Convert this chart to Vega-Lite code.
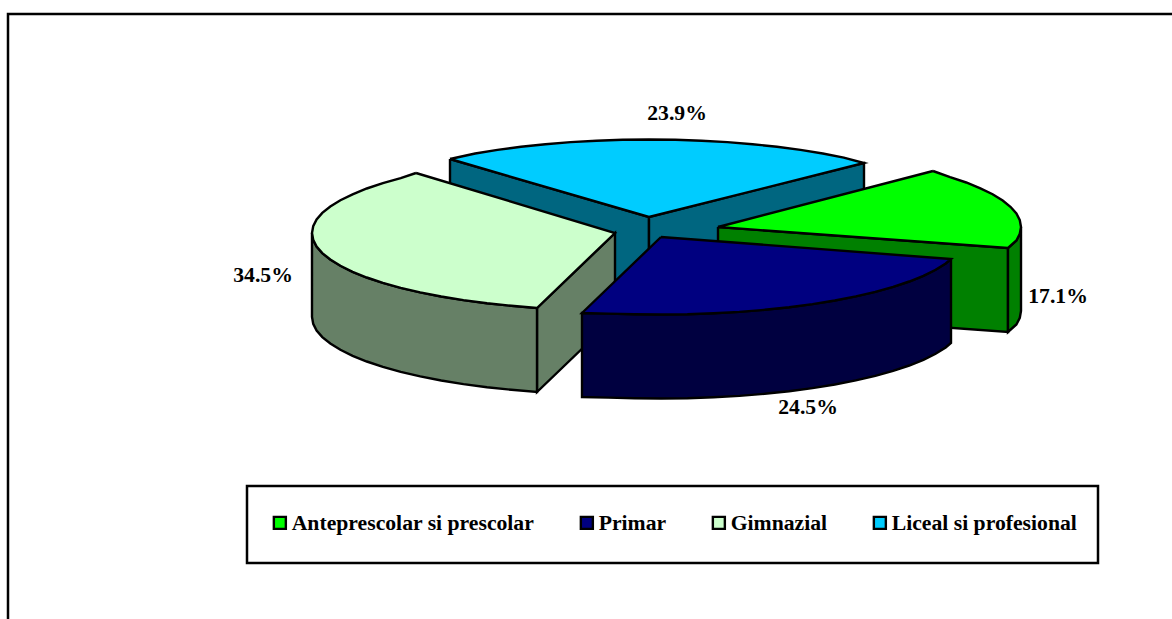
{"$schema":"https://vega.github.io/schema/vega-lite/v6.json","width":1172,"height":619,"padding":0,"autosize":"none","background":"white","config":{"view":{"stroke":null}},"datasets":{"shapes":[
{"s":"L1","part":"Liceal perete","i":0,"x":450,"y":159},{"s":"L1","part":"Liceal perete","i":1,"x":649,"y":217},{"s":"L1","part":"Liceal perete","i":2,"x":649,"y":301},{"s":"L1","part":"Liceal perete","i":3,"x":450,"y":243},{"s":"L1","part":"Liceal perete","i":4,"x":450,"y":159},
{"s":"L2","part":"Liceal perete","i":0,"x":649,"y":217},{"s":"L2","part":"Liceal perete","i":1,"x":864,"y":163},{"s":"L2","part":"Liceal perete","i":2,"x":864,"y":247},{"s":"L2","part":"Liceal perete","i":3,"x":649,"y":301},{"s":"L2","part":"Liceal perete","i":4,"x":649,"y":217},
{"s":"L3","part":"Liceal si profesional","i":0,"x":450,"y":159},{"s":"L3","part":"Liceal si profesional","i":1,"x":475.2,"y":153.5},{"s":"L3","part":"Liceal si profesional","i":2,"x":497.5,"y":149.9},{"s":"L3","part":"Liceal si profesional","i":3,"x":521,"y":146.8},{"s":"L3","part":"Liceal si profesional","i":4,"x":545.4,"y":144.2},{"s":"L3","part":"Liceal si profesional","i":5,"x":570.6,"y":142.1},{"s":"L3","part":"Liceal si profesional","i":6,"x":596.4,"y":140.7},{"s":"L3","part":"Liceal si profesional","i":7,"x":622.6,"y":139.8},{"s":"L3","part":"Liceal si profesional","i":8,"x":649,"y":139.5},{"s":"L3","part":"Liceal si profesional","i":9,"x":675.4,"y":139.8},{"s":"L3","part":"Liceal si profesional","i":10,"x":701.6,"y":140.7},{"s":"L3","part":"Liceal si profesional","i":11,"x":727.4,"y":142.1},{"s":"L3","part":"Liceal si profesional","i":12,"x":752.6,"y":144.2},{"s":"L3","part":"Liceal si profesional","i":13,"x":777,"y":146.8},{"s":"L3","part":"Liceal si profesional","i":14,"x":800.5,"y":149.9},{"s":"L3","part":"Liceal si profesional","i":15,"x":822.8,"y":153.5},{"s":"L3","part":"Liceal si profesional","i":16,"x":843.8,"y":157.6},{"s":"L3","part":"Liceal si profesional","i":17,"x":864,"y":163},{"s":"L3","part":"Liceal si profesional","i":18,"x":649,"y":217},{"s":"L3","part":"Liceal si profesional","i":19,"x":450,"y":159},
{"s":"G1","part":"Gimnazial perete","i":0,"x":537,"y":308},{"s":"G1","part":"Gimnazial perete","i":1,"x":615,"y":233},{"s":"G1","part":"Gimnazial perete","i":2,"x":615,"y":317},{"s":"G1","part":"Gimnazial perete","i":3,"x":537,"y":392},{"s":"G1","part":"Gimnazial perete","i":4,"x":537,"y":308},
{"s":"G2","part":"Gimnazial perete","i":0,"x":312,"y":233},{"s":"G2","part":"Gimnazial perete","i":1,"x":313.2,"y":239.8},{"s":"G2","part":"Gimnazial perete","i":2,"x":316.6,"y":246.5},{"s":"G2","part":"Gimnazial perete","i":3,"x":322.3,"y":253.1},{"s":"G2","part":"Gimnazial perete","i":4,"x":330.3,"y":259.5},{"s":"G2","part":"Gimnazial perete","i":5,"x":340.4,"y":265.8},{"s":"G2","part":"Gimnazial perete","i":6,"x":352.6,"y":271.8},{"s":"G2","part":"Gimnazial perete","i":7,"x":366.8,"y":277.5},{"s":"G2","part":"Gimnazial perete","i":8,"x":382.9,"y":282.8},{"s":"G2","part":"Gimnazial perete","i":9,"x":400.7,"y":287.8},{"s":"G2","part":"Gimnazial perete","i":10,"x":420.2,"y":292.4},{"s":"G2","part":"Gimnazial perete","i":11,"x":441.2,"y":296.5},{"s":"G2","part":"Gimnazial perete","i":12,"x":463.5,"y":300.1},{"s":"G2","part":"Gimnazial perete","i":13,"x":487,"y":303.2},{"s":"G2","part":"Gimnazial perete","i":14,"x":511.4,"y":305.8},{"s":"G2","part":"Gimnazial perete","i":15,"x":537,"y":308},{"s":"G2","part":"Gimnazial perete","i":16,"x":537,"y":392},{"s":"G2","part":"Gimnazial perete","i":17,"x":511.4,"y":389.8},{"s":"G2","part":"Gimnazial perete","i":18,"x":487,"y":387.2},{"s":"G2","part":"Gimnazial perete","i":19,"x":463.5,"y":384.1},{"s":"G2","part":"Gimnazial perete","i":20,"x":441.2,"y":380.5},{"s":"G2","part":"Gimnazial perete","i":21,"x":420.2,"y":376.4},{"s":"G2","part":"Gimnazial perete","i":22,"x":400.7,"y":371.8},{"s":"G2","part":"Gimnazial perete","i":23,"x":382.9,"y":366.8},{"s":"G2","part":"Gimnazial perete","i":24,"x":366.8,"y":361.5},{"s":"G2","part":"Gimnazial perete","i":25,"x":352.6,"y":355.8},{"s":"G2","part":"Gimnazial perete","i":26,"x":340.4,"y":349.8},{"s":"G2","part":"Gimnazial perete","i":27,"x":330.3,"y":343.5},{"s":"G2","part":"Gimnazial perete","i":28,"x":322.3,"y":337.1},{"s":"G2","part":"Gimnazial perete","i":29,"x":316.6,"y":330.5},{"s":"G2","part":"Gimnazial perete","i":30,"x":313.2,"y":323.8},{"s":"G2","part":"Gimnazial perete","i":31,"x":312,"y":317},{"s":"G2","part":"Gimnazial perete","i":32,"x":312,"y":233},
{"s":"G3","part":"Gimnazial","i":0,"x":416,"y":173},{"s":"G3","part":"Gimnazial","i":1,"x":400.7,"y":178.2},{"s":"G3","part":"Gimnazial","i":2,"x":382.9,"y":183.2},{"s":"G3","part":"Gimnazial","i":3,"x":366.8,"y":188.5},{"s":"G3","part":"Gimnazial","i":4,"x":352.6,"y":194.3},{"s":"G3","part":"Gimnazial","i":5,"x":340.4,"y":200.2},{"s":"G3","part":"Gimnazial","i":6,"x":330.3,"y":206.5},{"s":"G3","part":"Gimnazial","i":7,"x":322.3,"y":212.9},{"s":"G3","part":"Gimnazial","i":8,"x":316.6,"y":219.5},{"s":"G3","part":"Gimnazial","i":9,"x":313.2,"y":226.2},{"s":"G3","part":"Gimnazial","i":10,"x":312,"y":233},{"s":"G3","part":"Gimnazial","i":11,"x":313.2,"y":239.8},{"s":"G3","part":"Gimnazial","i":12,"x":316.6,"y":246.5},{"s":"G3","part":"Gimnazial","i":13,"x":322.3,"y":253.1},{"s":"G3","part":"Gimnazial","i":14,"x":330.3,"y":259.5},{"s":"G3","part":"Gimnazial","i":15,"x":340.4,"y":265.8},{"s":"G3","part":"Gimnazial","i":16,"x":352.6,"y":271.8},{"s":"G3","part":"Gimnazial","i":17,"x":366.8,"y":277.5},{"s":"G3","part":"Gimnazial","i":18,"x":382.9,"y":282.8},{"s":"G3","part":"Gimnazial","i":19,"x":400.7,"y":287.8},{"s":"G3","part":"Gimnazial","i":20,"x":420.2,"y":292.4},{"s":"G3","part":"Gimnazial","i":21,"x":441.2,"y":296.5},{"s":"G3","part":"Gimnazial","i":22,"x":463.5,"y":300.1},{"s":"G3","part":"Gimnazial","i":23,"x":487,"y":303.2},{"s":"G3","part":"Gimnazial","i":24,"x":511.4,"y":305.8},{"s":"G3","part":"Gimnazial","i":25,"x":537,"y":308},{"s":"G3","part":"Gimnazial","i":26,"x":615,"y":233},{"s":"G3","part":"Gimnazial","i":27,"x":416,"y":173},
{"s":"A1","part":"Anteprescolar perete","i":0,"x":718,"y":227},{"s":"A1","part":"Anteprescolar perete","i":1,"x":1008,"y":248},{"s":"A1","part":"Anteprescolar perete","i":2,"x":1008,"y":332},{"s":"A1","part":"Anteprescolar perete","i":3,"x":718,"y":311},{"s":"A1","part":"Anteprescolar perete","i":4,"x":718,"y":227},
{"s":"A2","part":"Anteprescolar perete","i":0,"x":1021,"y":227},{"s":"A2","part":"Anteprescolar perete","i":1,"x":1019.8,"y":233.8},{"s":"A2","part":"Anteprescolar perete","i":2,"x":1016.4,"y":240.5},{"s":"A2","part":"Anteprescolar perete","i":3,"x":1008,"y":248},{"s":"A2","part":"Anteprescolar perete","i":4,"x":1008,"y":332},{"s":"A2","part":"Anteprescolar perete","i":5,"x":1016.4,"y":324.5},{"s":"A2","part":"Anteprescolar perete","i":6,"x":1019.8,"y":317.8},{"s":"A2","part":"Anteprescolar perete","i":7,"x":1021,"y":311},{"s":"A2","part":"Anteprescolar perete","i":8,"x":1021,"y":227},
{"s":"A3","part":"Anteprescolar si prescolar","i":0,"x":933,"y":171},{"s":"A3","part":"Anteprescolar si prescolar","i":1,"x":950.1,"y":177.2},{"s":"A3","part":"Anteprescolar si prescolar","i":2,"x":966.2,"y":182.5},{"s":"A3","part":"Anteprescolar si prescolar","i":3,"x":980.4,"y":188.3},{"s":"A3","part":"Anteprescolar si prescolar","i":4,"x":992.6,"y":194.2},{"s":"A3","part":"Anteprescolar si prescolar","i":5,"x":1002.7,"y":200.5},{"s":"A3","part":"Anteprescolar si prescolar","i":6,"x":1010.7,"y":207},{"s":"A3","part":"Anteprescolar si prescolar","i":7,"x":1016.4,"y":213.5},{"s":"A3","part":"Anteprescolar si prescolar","i":8,"x":1019.8,"y":220.2},{"s":"A3","part":"Anteprescolar si prescolar","i":9,"x":1021,"y":227},{"s":"A3","part":"Anteprescolar si prescolar","i":10,"x":1019.8,"y":233.8},{"s":"A3","part":"Anteprescolar si prescolar","i":11,"x":1016.4,"y":240.5},{"s":"A3","part":"Anteprescolar si prescolar","i":12,"x":1008,"y":248},{"s":"A3","part":"Anteprescolar si prescolar","i":13,"x":718,"y":227},{"s":"A3","part":"Anteprescolar si prescolar","i":14,"x":933,"y":171},
{"s":"P1","part":"Primar perete","i":0,"x":951,"y":259},{"s":"P1","part":"Primar perete","i":1,"x":945.7,"y":263.5},{"s":"P1","part":"Primar perete","i":2,"x":935.6,"y":269.8},{"s":"P1","part":"Primar perete","i":3,"x":923.4,"y":275.8},{"s":"P1","part":"Primar perete","i":4,"x":909.2,"y":281.5},{"s":"P1","part":"Primar perete","i":5,"x":893.1,"y":286.8},{"s":"P1","part":"Primar perete","i":6,"x":875.3,"y":291.8},{"s":"P1","part":"Primar perete","i":7,"x":855.8,"y":296.4},{"s":"P1","part":"Primar perete","i":8,"x":834.8,"y":300.5},{"s":"P1","part":"Primar perete","i":9,"x":812.5,"y":304.1},{"s":"P1","part":"Primar perete","i":10,"x":789.1,"y":307.2},{"s":"P1","part":"Primar perete","i":11,"x":764.6,"y":309.8},{"s":"P1","part":"Primar perete","i":12,"x":739.4,"y":311.9},{"s":"P1","part":"Primar perete","i":13,"x":713.6,"y":313.3},{"s":"P1","part":"Primar perete","i":14,"x":687.4,"y":314.2},{"s":"P1","part":"Primar perete","i":15,"x":661,"y":314.5},{"s":"P1","part":"Primar perete","i":16,"x":634.6,"y":314.2},{"s":"P1","part":"Primar perete","i":17,"x":608.4,"y":313.6},{"s":"P1","part":"Primar perete","i":18,"x":582,"y":313},{"s":"P1","part":"Primar perete","i":19,"x":582,"y":397},{"s":"P1","part":"Primar perete","i":20,"x":608.4,"y":397.6},{"s":"P1","part":"Primar perete","i":21,"x":634.6,"y":398.2},{"s":"P1","part":"Primar perete","i":22,"x":661,"y":398.5},{"s":"P1","part":"Primar perete","i":23,"x":687.4,"y":398.2},{"s":"P1","part":"Primar perete","i":24,"x":713.6,"y":397.3},{"s":"P1","part":"Primar perete","i":25,"x":739.4,"y":395.9},{"s":"P1","part":"Primar perete","i":26,"x":764.6,"y":393.8},{"s":"P1","part":"Primar perete","i":27,"x":789.1,"y":391.2},{"s":"P1","part":"Primar perete","i":28,"x":812.5,"y":388.1},{"s":"P1","part":"Primar perete","i":29,"x":834.8,"y":384.5},{"s":"P1","part":"Primar perete","i":30,"x":855.8,"y":380.4},{"s":"P1","part":"Primar perete","i":31,"x":875.3,"y":375.8},{"s":"P1","part":"Primar perete","i":32,"x":893.1,"y":370.8},{"s":"P1","part":"Primar perete","i":33,"x":909.2,"y":365.5},{"s":"P1","part":"Primar perete","i":34,"x":923.4,"y":359.8},{"s":"P1","part":"Primar perete","i":35,"x":935.6,"y":353.8},{"s":"P1","part":"Primar perete","i":36,"x":945.7,"y":347.5},{"s":"P1","part":"Primar perete","i":37,"x":951,"y":343},{"s":"P1","part":"Primar perete","i":38,"x":951,"y":259},
{"s":"P2","part":"Primar","i":0,"x":661,"y":237},{"s":"P2","part":"Primar","i":1,"x":951,"y":259},{"s":"P2","part":"Primar","i":2,"x":945.7,"y":263.5},{"s":"P2","part":"Primar","i":3,"x":935.6,"y":269.8},{"s":"P2","part":"Primar","i":4,"x":923.4,"y":275.8},{"s":"P2","part":"Primar","i":5,"x":909.2,"y":281.5},{"s":"P2","part":"Primar","i":6,"x":893.1,"y":286.8},{"s":"P2","part":"Primar","i":7,"x":875.3,"y":291.8},{"s":"P2","part":"Primar","i":8,"x":855.8,"y":296.4},{"s":"P2","part":"Primar","i":9,"x":834.8,"y":300.5},{"s":"P2","part":"Primar","i":10,"x":812.5,"y":304.1},{"s":"P2","part":"Primar","i":11,"x":789.1,"y":307.2},{"s":"P2","part":"Primar","i":12,"x":764.6,"y":309.8},{"s":"P2","part":"Primar","i":13,"x":739.4,"y":311.9},{"s":"P2","part":"Primar","i":14,"x":713.6,"y":313.3},{"s":"P2","part":"Primar","i":15,"x":687.4,"y":314.2},{"s":"P2","part":"Primar","i":16,"x":661,"y":314.5},{"s":"P2","part":"Primar","i":17,"x":634.6,"y":314.2},{"s":"P2","part":"Primar","i":18,"x":608.4,"y":313.6},{"s":"P2","part":"Primar","i":19,"x":582,"y":313},{"s":"P2","part":"Primar","i":20,"x":661,"y":237}
],"frame":[{"s":"F","i":0,"x":8,"y":619},{"s":"F","i":1,"x":8,"y":14},{"s":"F","i":2,"x":1172,"y":14}],
"box":[{"s":"B","i":0,"x":247,"y":486},{"s":"B","i":1,"x":1098,"y":486},{"s":"B","i":2,"x":1098,"y":563},{"s":"B","i":3,"x":247,"y":563},{"s":"B","i":4,"x":247,"y":486}],
"labels":[{"label":"23.9%","x":677,"y":113},{"label":"34.5%","x":263,"y":275},{"label":"17.1%","x":1058,"y":296},{"label":"24.5%","x":808,"y":407}]},
"layer":[
{"data":{"name":"frame"},"mark":{"type":"line","stroke":"black","strokeWidth":2.5,"fill":"transparent","strokeCap":"square"},"encoding":{"x":{"field":"x","type":"quantitative","scale":{"domain":[0,1172],"nice":false},"axis":null},"y":{"field":"y","type":"quantitative","scale":{"domain":[0,619],"nice":false,"reverse":true},"axis":null},"order":{"field":"i"}}},
{"data":{"name":"box"},"mark":{"type":"line","stroke":"black","strokeWidth":2.5,"fill":"white","strokeCap":"square"},"encoding":{"x":{"field":"x","type":"quantitative"},"y":{"field":"y","type":"quantitative"},"order":{"field":"i"}}},
{"data":{"name":"shapes"},"mark":{"type":"line","stroke":"black","strokeWidth":2.4,"strokeJoin":"miter"},"encoding":{"x":{"field":"x","type":"quantitative"},"y":{"field":"y","type":"quantitative"},"order":{"field":"i"},"detail":{"field":"s"},"fill":{"field":"part","type":"nominal","scale":{"domain":["Anteprescolar si prescolar","Primar","Gimnazial","Liceal si profesional","Anteprescolar perete","Primar perete","Gimnazial perete","Liceal perete"],"range":["#00ff00","#000080","#ccffcc","#00ccff","#008000","#000040","#668066","#006680"]},"legend":{"values":["Anteprescolar si prescolar","Primar","Gimnazial","Liceal si profesional"],"title":null,"orient":"none","legendX":269,"legendY":512,"direction":"horizontal","columns":4,"gridAlign":"none","columnPadding":41,"symbolType":"square","symbolSize":144,"symbolStrokeColor":"black","symbolStrokeWidth":2.4,"symbolOpacity":1,"labelFont":"Liberation Serif","labelFontWeight":"bold","labelFontSize":21.7,"labelColor":"black","labelOffset":1,"padding":0,"labelLimit":400}}}},
{"data":{"name":"labels"},"mark":{"type":"text","font":"Liberation Serif","fontWeight":"bold","fontSize":21.7,"color":"black","baseline":"middle","align":"center"},"encoding":{"x":{"field":"x","type":"quantitative"},"y":{"field":"y","type":"quantitative"},"text":{"field":"label"}}}
]}
